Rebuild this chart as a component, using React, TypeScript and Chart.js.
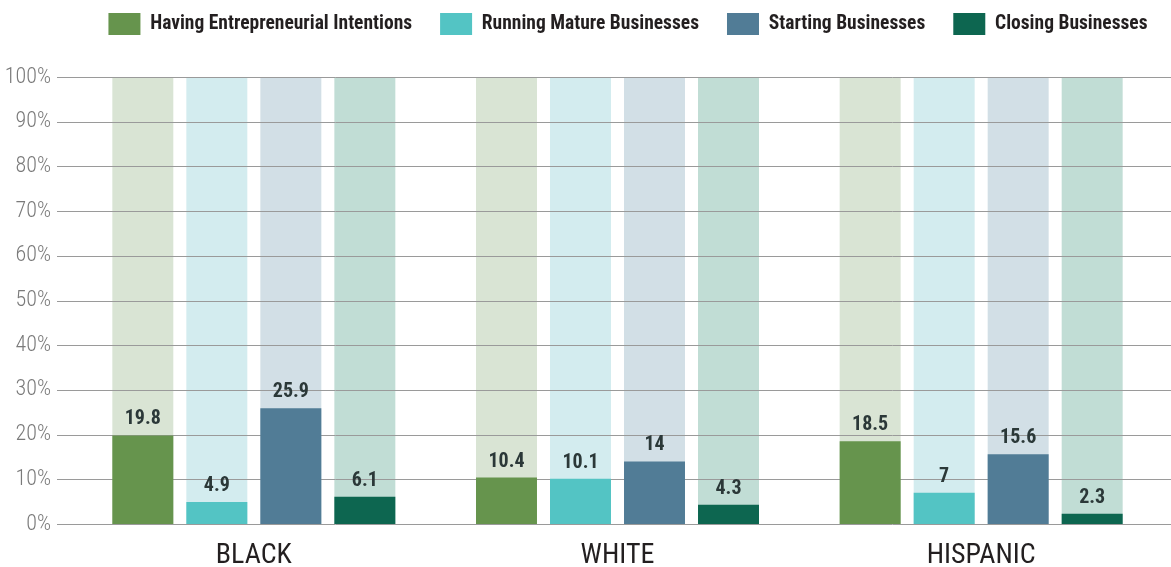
import React, { useEffect, useRef } from 'react';
import { Chart, registerables } from 'chart.js';

Chart.register(...registerables);

const categories = ['BLACK', 'WHITE', 'HISPANIC'];
const seriesNames = [
  'Having Entrepreneurial Intentions',
  'Running Mature Businesses',
  'Starting Businesses',
  'Closing Businesses',
];
const intentions = [19.8, 10.4, 18.5];
const mature = [4.9, 10.1, 7];
const starting = [25.9, 14, 15.6];
const closing = [6.1, 4.3, 2.3];
const fullScale = [100, 100, 100];
const yMin = 0;
const yMax = 100;
const yStep = 10;

const solidColors = ['#66944d', '#53c4c4', '#517c96', '#0d6650'];
const lightColors = ['#d9e4d4', '#d3ecef', '#d2dfe6', '#c1ddd5'];

const FONT = "'Roboto Condensed', 'Open Sans Condensed', sans-serif";
const CAT_PCT = 0.814;
const BAR_PCT = 0.824;

const gridPlugin = {
  id: 'gridUnderValues',
  beforeDatasetsDraw(chart: any) {
    chart.$gridDrawn = false;
  },
  beforeDatasetDraw(chart: any, args: any) {
    if (chart.$gridDrawn) return;
    if (!chart.data.datasets[args.index].isValue) return;
    chart.$gridDrawn = true;
    const y = chart.scales.y;
    const ctx = chart.ctx;
    ctx.save();
    ctx.strokeStyle = '#9a9a9a';
    ctx.lineWidth = 1;
    y.ticks.forEach((t: any) => {
      const py = Math.round(y.getPixelForValue(t.value)) + 0.5;
      ctx.beginPath();
      ctx.moveTo(chart.chartArea.left - 15, py);
      ctx.lineTo(chart.width, py);
      ctx.stroke();
    });
    ctx.restore();
  },
};

const valueLabelPlugin = {
  id: 'valueLabels',
  afterDatasetsDraw(chart: any) {
    const ctx = chart.ctx;
    ctx.save();
    ctx.font = `bold 20px ${FONT}`;
    ctx.fillStyle = '#2b3838';
    ctx.textAlign = 'center';
    ctx.textBaseline = 'alphabetic';
    chart.data.datasets.forEach((ds: any, i: number) => {
      if (!ds.isValue) return;
      const meta = chart.getDatasetMeta(i);
      meta.data.forEach((bar: any, j: number) => {
        ctx.fillText(String(ds.data[j]), bar.x, bar.y - 11);
      });
    });
    ctx.restore();
  },
};

const legendFitPlugin = {
  id: 'legendFit',
  beforeLayout(chart: any) {
    const lg = chart.legend;
    if (lg && !lg.$patched) {
      const orig = lg.fit;
      lg.fit = function () {
        const mw = this.maxWidth;
        this.maxWidth = mw + 120;
        orig.call(this);
        this.maxWidth = mw;
        this.width = mw;
        this.height = 92;
      };
      lg.$patched = true;
    }
  },
  afterLayout(chart: any) {
    const lg = chart.legend;
    if (lg) {
      lg.left -= 9;
      lg.right += 30;
    }
  },
};

export default function App() {
  const ref = useRef<HTMLCanvasElement>(null);

  useEffect(() => {
    document.body.style.margin = '0';
    const values = [intentions, mature, starting, closing];
    const valueSets = values.map((d, i) => ({
      label: seriesNames[i],
      data: d,
      backgroundColor: solidColors[i],
      borderWidth: 0,
      stack: 's' + i,
      order: 1,
      isValue: true,
      categoryPercentage: CAT_PCT,
      barPercentage: BAR_PCT,
    }));
    const bgSets = values.map((_, i) => ({
      label: seriesNames[i] + ' (scale)',
      data: fullScale,
      backgroundColor: lightColors[i],
      borderWidth: 0,
      stack: 's' + i,
      order: 2,
      isValue: false,
      categoryPercentage: CAT_PCT,
      barPercentage: BAR_PCT,
    }));

    const chart = new Chart(ref.current as HTMLCanvasElement, {
      type: 'bar',
      data: { labels: categories, datasets: [...valueSets, ...bgSets] as any },
      options: {
        animation: false,
        responsive: false,
        devicePixelRatio: 1,
        layout: { padding: { top: -15, right: 8, bottom: 0, left: 0 } },
        plugins: {
          legend: {
            position: 'top',
            fullSize: false,
            align: 'center',
            labels: {
              boxWidth: 32,
              boxHeight: 22,
              padding: 28,
              color: '#231f20',
              font: { family: FONT, size: 19.5, weight: 'bold' },
              filter: (item: any) => item.datasetIndex < 4,
            },
          },
          tooltip: { enabled: false },
        },
        scales: {
          x: {
            type: 'category',
            stacked: true,
            offset: true,
            grid: { display: false },
            border: { display: false },
            ticks: {
              color: '#231f20',
              font: { family: FONT, size: 28 },
              padding: 7,
            },
            afterFit: (s: any) => {
              s.height = 43;
            },
          },
          y: {
            stacked: false,
            min: yMin,
            max: yMax,
            grid: { display: false },
            border: { display: false },
            ticks: {
              stepSize: yStep,
              color: '#7a7a7a',
              font: { family: FONT, size: 22, weight: 300 },
              padding: 13,
              callback: (v: any) => v + '%',
            },
            afterFit: (s: any) => {
              s.width = 72;
            },
          },
        },
      } as any,
      plugins: [gridPlugin, valueLabelPlugin, legendFitPlugin],
    });
    return () => chart.destroy();
  }, []);

  return (
    <div style={{ position: 'absolute', left: 0, top: 0, width: 1171, height: 567 }}>
      <canvas ref={ref} width={1171} height={567} style={{ display: 'block' }} />
    </div>
  );
}
